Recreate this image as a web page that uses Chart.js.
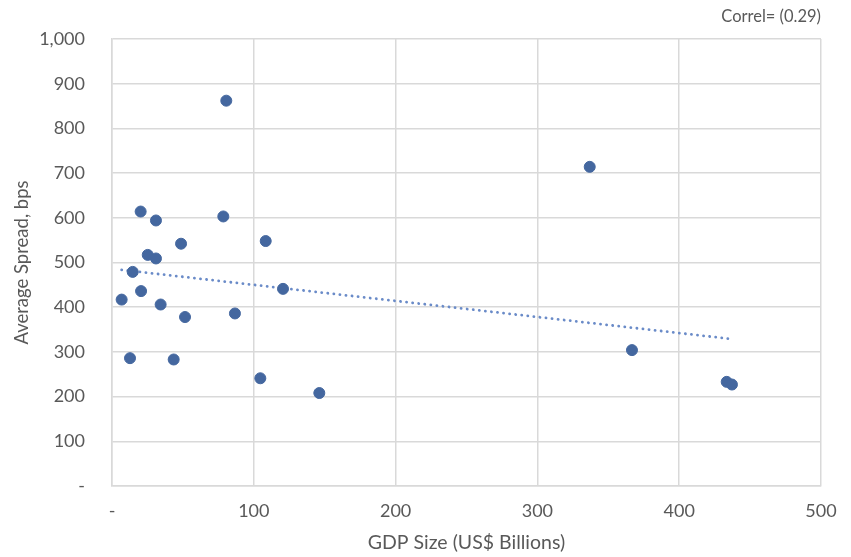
<!DOCTYPE html>
<html>
<head>
<meta charset="utf-8">
<script src="https://cdn.jsdelivr.net/npm/chart.js@4.4.1/dist/chart.umd.min.js"></script>
<style>
  html, body { margin: 0; padding: 0; background: #ffffff; }
  #wrap { width: 851px; height: 557px; }
</style>
</head>
<body>
<div id="wrap"><canvas id="chart" width="851" height="557"></canvas></div>
<script>
// GDP size (US$ billions) and average spread (bps) per issuer
const gdpSize = [20.2, 31.0, 78.5, 48.7, 108.4, 25.2, 31.0, 14.6, 120.6, 6.8, 20.5, 34.3,
                 51.5, 86.7, 12.7, 43.5, 104.6, 146.2, 80.6, 336.9, 366.7, 433.5, 437.2];
const avgSpread = [614, 594, 603, 542, 548, 517, 509, 479, 441, 417, 436, 406,
                   378, 386, 286, 283, 241, 208, 862, 714, 304, 233, 227];

const xTicks = [0, 100, 200, 300, 400, 500];
const yTicks = [0, 100, 200, 300, 400, 500, 600, 700, 800, 900, 1000];
const correlLabel = 'Correl= (0.29)';

// Least-squares linear trend across the observed GDP range
function linearTrend(xs, ys) {
  const n = xs.length;
  const mx = xs.reduce((a, b) => a + b, 0) / n;
  const my = ys.reduce((a, b) => a + b, 0) / n;
  let sxy = 0, sxx = 0;
  for (let i = 0; i < n; i++) {
    sxy += (xs[i] - mx) * (ys[i] - my);
    sxx += (xs[i] - mx) * (xs[i] - mx);
  }
  const slope = sxy / sxx;
  const icpt = my - slope * mx;
  const x0 = Math.min(...xs), x1 = Math.max(...xs);
  return [{ x: x0, y: icpt + slope * x0 }, { x: x1, y: icpt + slope * x1 }];
}

const points = gdpSize.map((x, i) => ({ x: x, y: avgSpread[i] }));
const trend = linearTrend(gdpSize, avgSpread);

const textColor = '#595959';
const gridColor = '#d9d9d9';
const fontFamily = 'Lato, "Open Sans", sans-serif';

const fmt = v => v === 0 ? '-' : v.toLocaleString('en-US');

const correlText = {
  id: 'correlText',
  afterDraw(chart) {
    const ctx = chart.ctx;
    ctx.save();
    ctx.font = '16.5px ' + fontFamily;
    ctx.fillStyle = textColor;
    ctx.textAlign = 'right';
    ctx.textBaseline = 'middle';
    ctx.fillText(correlLabel, chart.chartArea.right, 17);
    ctx.restore();
  }
};

new Chart(document.getElementById('chart'), {
  type: 'scatter',
  data: {
    datasets: [
      {
        label: 'Trend',
        type: 'line',
        data: trend,
        borderColor: '#6a8bc8',
        borderWidth: 2.8,
        borderDash: [0.1, 6],
        borderCapStyle: 'round',
        pointRadius: 0,
        fill: false,
        order: 2
      },
      {
        label: 'Spread',
        data: points,
        backgroundColor: '#44679f',
        borderColor: '#44679f',
        pointRadius: 5.5,
        pointHoverRadius: 5.5,
        order: 1
      }
    ]
  },
  options: {
    responsive: false,
    animation: false,
    events: [],
    layout: { padding: { left: 0, right: 30, top: 39, bottom: 0 } },
    plugins: {
      legend: { display: false },
      tooltip: { enabled: false }
    },
    scales: {
      x: {
        type: 'linear',
        min: 0,
        max: 500,
        afterBuildTicks(scale) { scale.ticks = xTicks.map(v => ({ value: v })); },
        afterFit(scale) { scale.height = 71; },
        grid: { color: gridColor, lineWidth: 1.5, drawTicks: false },
        border: { color: gridColor, width: 1.5 },
        ticks: {
          padding: 14,
          color: textColor,
          font: { family: fontFamily, size: 18 },
          callback: fmt
        },
        title: {
          display: true,
          text: 'GDP Size (US$ Billions)',
          color: textColor,
          font: { family: fontFamily, size: 19.5 },
          padding: { top: 4, bottom: 3 }
        }
      },
      y: {
        type: 'linear',
        min: 0,
        max: 1000,
        afterBuildTicks(scale) { scale.ticks = yTicks.map(v => ({ value: v })); },
        afterFit(scale) { scale.width = 112; },
        grid: { color: gridColor, lineWidth: 1.5, drawTicks: false },
        border: { color: gridColor, width: 1.5 },
        ticks: {
          padding: 27,
          color: textColor,
          font: { family: fontFamily, size: 18 },
          callback: fmt
        },
        title: {
          display: true,
          text: 'Average Spread, bps',
          color: textColor,
          font: { family: fontFamily, size: 18.5 },
          padding: { top: 11, bottom: 0 }
        }
      }
    }
  },
  plugins: [correlText]
});
</script>
</body>
</html>
